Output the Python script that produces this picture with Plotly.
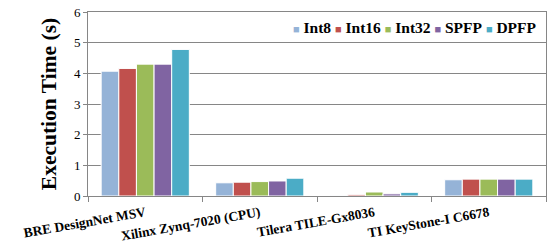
import plotly.graph_objects as go

categories = ["BRE DesignNet MSV", "Xilinx Zynq-7020 (CPU)", "Tilera TILE-Gx8036", "TI KeyStone-I C6678"]
series_names = ["Int8", "Int16", "Int32", "SPFP", "DPFP"]
int8 = [4.07, 0.43, 0.02, 0.53]
int16 = [4.16, 0.45, 0.04, 0.55]
int32 = [4.30, 0.47, 0.13, 0.55]
spfp = [4.30, 0.49, 0.07, 0.55]
dpfp = [4.78, 0.58, 0.12, 0.55]
colors = ["#95B3D7", "#C0504D", "#9BBB59", "#8064A2", "#4BACC6"]
y_ticks = [0, 1, 2, 3, 4, 5, 6]

FONT = "Liberation Serif, Times New Roman, serif"

fig = go.Figure()
for name, vals, col in zip(series_names, [int8, int16, int32, spfp, dpfp], colors):
    fig.add_trace(go.Bar(x=categories, y=vals, name=name, marker=dict(color=col, line=dict(color="white", width=1)), showlegend=False))

legend_text = "&nbsp;".join(
    f"<span style='color:{c};font-size:11px'>■</span> {n}" for n, c in zip(series_names, colors)
)
fig.add_annotation(text="<b>" + legend_text + "</b>", xref="paper", yref="paper", x=1, y=1, xanchor="right", yanchor="top",
                   xshift=-7, yshift=-5, showarrow=False,
                   font=dict(family=FONT, size=15.5, color="#000000"))

fig.update_layout(
    width=547, height=246,
    margin=dict(l=88, r=1, t=12, b=50, autoexpand=False),
    paper_bgcolor="white", plot_bgcolor="white",
    barmode="group", bargap=0.23, bargroupgap=0,
    font=dict(family=FONT, color="black"),
)
fig.update_xaxes(
    type="category", tickson="boundaries", ticks="outside", ticklen=5, tickcolor="#868686",
    showline=True, linecolor="#868686", linewidth=1, mirror=True, automargin=False,
    tickangle=-10, tickfont=dict(family=FONT, size=13.5, color="black"), ticklabelstandoff=3,
    tickprefix="<b>", ticksuffix="</b>",
)
fig.update_yaxes(
    range=[0, 6], tickvals=y_ticks, ticks="outside", ticklen=4, tickcolor="#868686",
    showgrid=True, gridcolor="#868686", gridwidth=1, automargin=False,
    showline=True, linecolor="#868686", linewidth=1, mirror=True,
    tickfont=dict(family=FONT, size=13, color="black"),
    tickprefix="<b>", ticksuffix="</b>",
    title=dict(text="<b>Execution Time (s)</b>", font=dict(family=FONT, size=21.5, color="black"), standoff=11),
)

fig.write_html("out.html", config={"displayModeBar": False},
               post_script="document.body.style.margin='0';document.body.style.overflow='hidden';")
